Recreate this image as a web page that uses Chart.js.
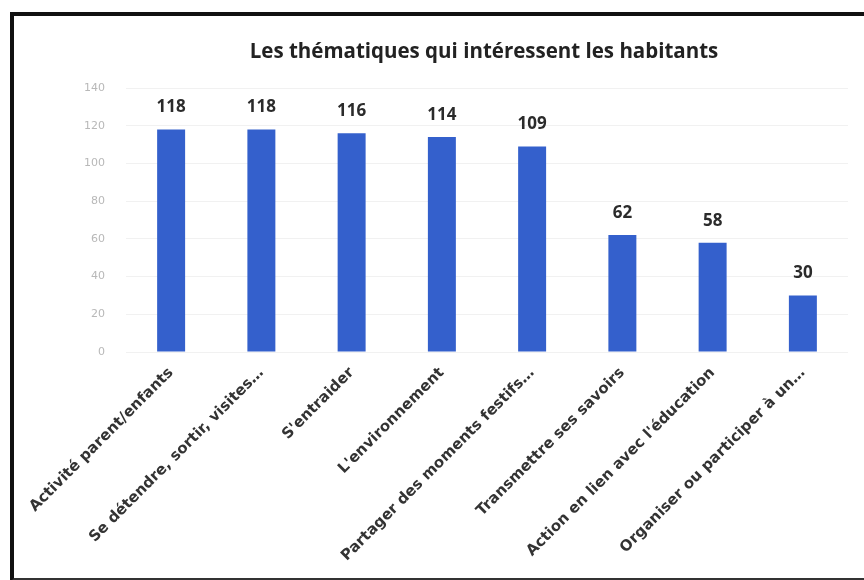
<!DOCTYPE html>
<html>
<head>
<meta charset="utf-8">
<script src="https://cdn.jsdelivr.net/npm/chart.js@4"></script>
<style>
  html, body { margin: 0; padding: 0; background: #fff; }
  #wrap { position: relative; width: 864px; height: 580px; overflow: hidden; }
  #frame {
    position: absolute; left: 10px; top: 12px; width: 880px; height: 562px;
    border-left: 4px solid #111; border-top: 4px solid #111; border-bottom: 4px solid #333;
    pointer-events: none;
  }
  canvas { position: absolute; left: 0; top: 0; }
</style>
</head>
<body>
<div id="wrap">
  <canvas id="barChart" width="864" height="580"></canvas>
  <div id="frame"></div>
</div>
<script>
// categories and counts
const themes = [
  "Activité parent/enfants",
  "Se détendre, sortir, visites…",
  "S'entraider",
  "L'environnement",
  "Partager des moments festifs…",
  "Transmettre ses savoirs",
  "Action en lien avec l'éducation",
  "Organiser ou participer à un…"
];
const counts = [118, 118, 116, 114, 109, 62, 58, 30];
const yTicks = [0, 20, 40, 60, 80, 100, 120, 140];
const chartTitle = "Les thématiques qui intéressent les habitants";

// title drawn centred over the bars, value above each bar
const labelsPlugin = {
  id: 'labelsPlugin',
  afterDatasetsDraw(chart) {
    const ctx = chart.ctx;
    ctx.save();
    ctx.fillStyle = '#2b2b2b';
    ctx.textAlign = 'center';
    ctx.textBaseline = 'alphabetic';
    ctx.font = 'bold 17px "Open Sans"';
    chart.getDatasetMeta(0).data.forEach((bar, i) => {
      ctx.fillText(String(counts[i]), bar.x, bar.y - 17);
    });
    ctx.font = 'bold 20.5px "Open Sans"';
    ctx.fillStyle = '#222';
    ctx.fillText(chartTitle, 484, 58);
    ctx.restore();
  }
};

// slightly lighter in the middle of each bar
function barFill(context) {
  const bar = context.element;
  if (!bar || !isFinite(bar.x)) return '#3460cc';
  const g = context.chart.ctx.createLinearGradient(bar.x - bar.width / 2, 0, bar.x + bar.width / 2, 0);
  g.addColorStop(0, '#2d57c4');
  g.addColorStop(0.5, '#3b68d6');
  g.addColorStop(1, '#2d57c4');
  return g;
}

const ctx = document.getElementById('barChart').getContext('2d');
new Chart(ctx, {
  type: 'bar',
  data: {
    labels: themes,
    datasets: [{
      data: counts,
      backgroundColor: barFill,
      barPercentage: 0.62,
      categoryPercentage: 0.5
    }]
  },
  options: {
    responsive: false,
    animation: false,
    layout: { padding: { top: 88, right: 16, bottom: 10, left: 0 } },
    plugins: {
      legend: { display: false },
      title: { display: false },
      tooltip: { enabled: false }
    },
    scales: {
      x: {
        grid: { display: false },
        border: { display: false },
        ticks: {
          color: '#333333',
          font: { family: '"DejaVu Sans"', size: 15, weight: 'bold' },
          minRotation: 45,
          maxRotation: 45,
          autoSkip: false,
          padding: 4
        },
        afterFit(scale) { scale.height = 218; }
      },
      y: {
        min: 0,
        max: 140,
        afterBuildTicks(scale) { scale.ticks = yTicks.map(v => ({ value: v })); },
        grid: { color: '#f1f1f1', drawTicks: false },
        border: { display: false },
        ticks: {
          color: '#b8b8b8',
          font: { family: '"DejaVu Sans"', size: 11 },
          padding: 21
        },
        afterFit(scale) { scale.width = 126; }
      }
    }
  },
  plugins: [labelsPlugin]
});
</script>
</body>
</html>
